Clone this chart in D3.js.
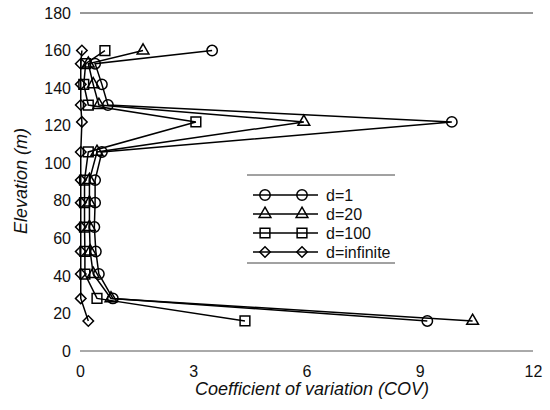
<!DOCTYPE html>
<html>
<head>
<meta charset="utf-8">
<script src="https://cdn.jsdelivr.net/npm/d3@7"></script>
<style>
  body { margin: 0; background: #fff; }
  text { font-family: "Liberation Sans", Arial, sans-serif; fill: #111; }
</style>
</head>
<body>
<svg id="chart" width="550" height="410"></svg>
<script>
// elevations (m) where COV was computed
var elevations = [160, 153, 142, 131, 122, 106, 91, 79, 66, 53, 41, 28, 16];

// COV values per correlation distance
var covD1 = [3.5, 0.4, 0.58, 0.74, 9.85, 0.58, 0.4, 0.4, 0.38, 0.42, 0.5, 0.87, 9.2];
var covD20 = [1.67, 0.22, 0.35, 0.5, 5.93, 0.45, 0.25, 0.25, 0.25, 0.27, 0.35, 0.82, 10.4];
var covD100 = [0.66, 0.15, 0.1, 0.22, 3.07, 0.22, 0.12, 0.12, 0.12, 0.13, 0.13, 0.45, 4.37];
var covDinf = [0.05, 0.02, 0.02, 0.02, 0.05, 0.02, 0.02, 0.02, 0.02, 0.02, 0.02, 0.02, 0.22];

var seriesNames = ['d=1', 'd=20', 'd=100', 'd=infinite'];
var seriesShapes = ['circle', 'triangle', 'square', 'diamond'];

var xTicks = [0, 3, 6, 9, 12];
var yTicks = [0, 20, 40, 60, 80, 100, 120, 140, 160, 180];

var series = [covD1, covD20, covD100, covDinf].map(function(vals, i) {
  return {
    name: seriesNames[i],
    shape: seriesShapes[i],
    points: vals.map(function(v, j) { return {x: v, y: elevations[j]}; })
  };
});

var svg = d3.select('#chart');
var margin = {left: 80, right: 17, top: 13, bottom: 59};
var width = 550 - margin.left - margin.right;
var height = 410 - margin.top - margin.bottom;

var x = d3.scaleLinear().domain([0, 12]).range([margin.left, margin.left + width]);
var y = d3.scaleLinear().domain([0, 180]).range([margin.top + height, margin.top]);

// frame lines at top and bottom only
svg.append('line')
  .attr('x1', x(0)).attr('x2', x(12))
  .attr('y1', y(180)).attr('y2', y(180))
  .style('stroke', '#333').style('stroke-width', 1);
svg.append('line')
  .attr('x1', x(0)).attr('x2', x(12))
  .attr('y1', y(0)).attr('y2', y(0))
  .style('stroke', '#555').style('stroke-width', 1);

// axes (labels only)
var xAxis = svg.append('g')
  .attr('transform', 'translate(0,' + y(0) + ')')
  .call(d3.axisBottom(x).tickValues(xTicks).tickSize(0).tickPadding(15));
var yAxis = svg.append('g')
  .attr('transform', 'translate(' + x(0) + ',0)')
  .call(d3.axisLeft(y).tickValues(yTicks).tickSize(0).tickPadding(9));
[xAxis, yAxis].forEach(function(a) {
  a.select('.domain').remove();
  a.selectAll('text').style('font-size', '16px').style('fill', '#111')
    .style('font-family', '"Liberation Sans", Arial, sans-serif');
});

svg.append('text')
  .attr('x', 312).attr('y', 395)
  .attr('text-anchor', 'middle')
  .style('font-size', '18px').style('font-style', 'italic')
  .text('Coefficient of variation (COV)');

svg.append('text')
  .attr('transform', 'translate(27,' + 181 + ') rotate(-90)')
  .attr('text-anchor', 'middle')
  .style('font-size', '18px').style('font-style', 'italic')
  .text('Elevation (m)');

var symbolMap = {
  circle: d3.symbolCircle,
  triangle: d3.symbolTriangle,
  square: d3.symbolSquare,
  diamond: d3.symbolSquare
};
var symbolSize = {circle: 85, triangle: 60, square: 95, diamond: 55};
var symbolRot = {circle: 0, triangle: 0, square: 0, diamond: 45};

function markerTransform(px, py, shape) {
  return 'translate(' + px + ',' + py + ') rotate(' + symbolRot[shape] + ')';
}

var line = d3.line().x(function(d) { return x(d.x); }).y(function(d) { return y(d.y); });

var g = svg.append('g');
series.slice().reverse().forEach(function(s) {
  g.append('path')
    .datum(s.points)
    .attr('d', line)
    .style('fill', 'none')
    .style('stroke', '#000')
    .style('stroke-width', 1.5);
});
series.slice().reverse().forEach(function(s) {
  g.selectAll(null)
    .data(s.points)
    .enter().append('path')
    .attr('transform', function(d) { return markerTransform(x(d.x), y(d.y), s.shape); })
    .attr('d', d3.symbol().type(symbolMap[s.shape]).size(symbolSize[s.shape]))
    .style('fill', 'none')
    .style('stroke', '#000')
    .style('stroke-width', 1.5);
});

// legend
var legend = svg.append('g');
legend.append('line').attr('x1', 247).attr('x2', 395).attr('y1', 175).attr('y2', 175)
  .style('stroke', '#444').style('stroke-width', 1);
legend.append('line').attr('x1', 247).attr('x2', 395).attr('y1', 263).attr('y2', 263)
  .style('stroke', '#444').style('stroke-width', 1);

var legendY = d3.scalePoint().domain(seriesNames).range([195, 252]);
series.forEach(function(s) {
  var ly = legendY(s.name);
  legend.append('line').attr('x1', 253).attr('x2', 318).attr('y1', ly).attr('y2', ly)
    .style('stroke', '#000').style('stroke-width', 1.5);
  [265, 302].forEach(function(mx) {
    legend.append('path')
      .attr('transform', markerTransform(mx, ly, s.shape))
      .attr('d', d3.symbol().type(symbolMap[s.shape]).size(symbolSize[s.shape]))
      .style('fill', 'none').style('stroke', '#000').style('stroke-width', 1.5);
  });
  legend.append('text')
    .attr('x', 326).attr('y', ly + 6)
    .style('font-size', '16px')
    .text(s.name);
});
</script>
</body>
</html>
